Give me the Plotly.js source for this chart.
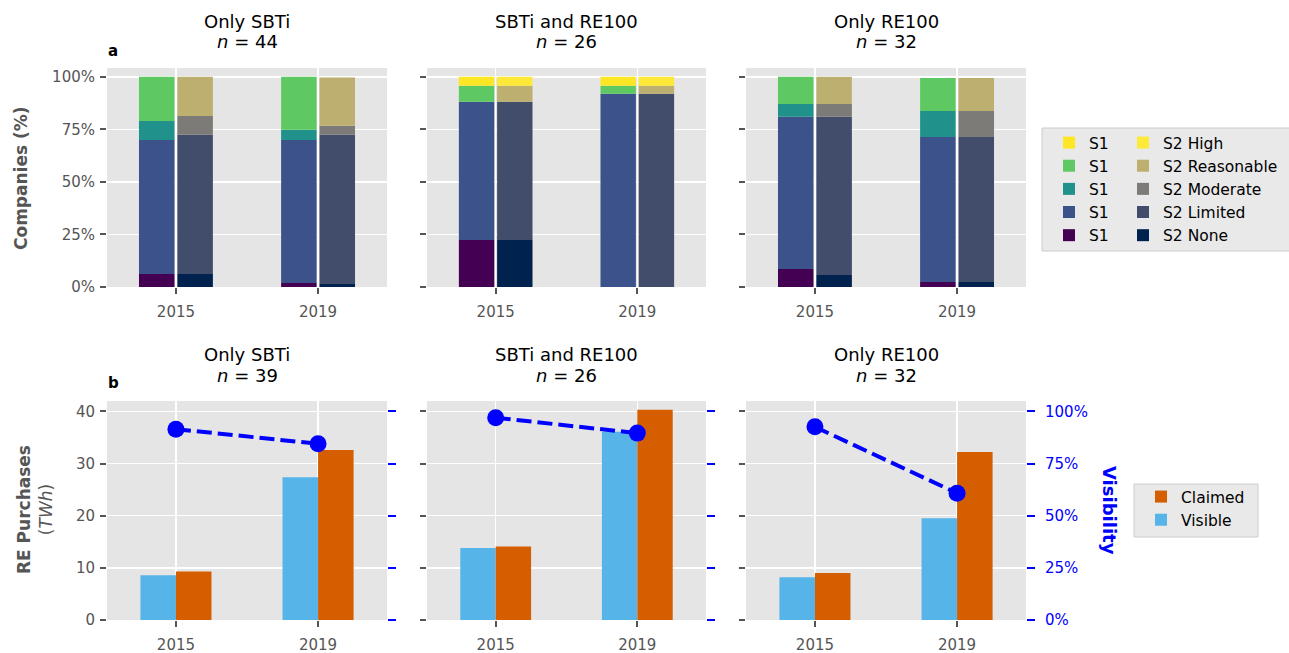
<!DOCTYPE html>
<html>
<head>
<meta charset="utf-8">
<script src="https://cdn.plot.ly/plotly-3.0.1.min.js"></script>
<style>html,body{margin:0;padding:0;background:#fff;}#chart{width:1289px;height:653px;}</style>
</head>
<body>
<div id="chart"></div>
<script>
// ---------- DATA ----------
const years = ['2015', '2019'];
const levels = ['None', 'Limited', 'Moderate', 'Reasonable', 'High'];
const panelTitles = ['Only SBTi', 'SBTi and RE100', 'Only RE100'];
const nTop = [44, 26, 32];
const nBottom = [39, 26, 32];
const pctTicks = ['0%', '25%', '50%', '75%', '100%'];

// Share of companies (%) by assurance level, order: None, Limited, Moderate, Reasonable, High
const onlySBTi_S1_2015 = [6.2, 63.8, 9.0, 21.0, 0];
const onlySBTi_S1_2019 = [1.9, 68.1, 4.8, 25.2, 0];
const onlySBTi_S2_2015 = [6.2, 66.2, 9.0, 18.6, 0];
const onlySBTi_S2_2019 = [1.4, 71.0, 4.3, 23.0, 0];

const both_S1_2015 = [22.4, 65.7, 0, 7.6, 4.3];
const both_S1_2019 = [0, 91.9, 0, 3.8, 4.3];
const both_S2_2015 = [22.4, 65.7, 0, 7.6, 4.3];
const both_S2_2019 = [0, 91.9, 0, 3.8, 4.3];

const onlyRE100_S1_2015 = [8.6, 72.4, 6.1, 12.9, 0];
const onlyRE100_S1_2019 = [2.4, 69.0, 12.4, 15.7, 0];
const onlyRE100_S2_2015 = [5.7, 75.3, 6.1, 12.9, 0];
const onlyRE100_S2_2019 = [2.4, 69.0, 12.4, 15.7, 0];

// RE purchases (TWh) and visibility share
const onlySBTi_visible = [8.6, 27.4];
const onlySBTi_claimed = [9.3, 32.6];
const onlySBTi_visibility = [0.915, 0.845];
const both_visible = [13.8, 36.1];
const both_claimed = [14.1, 40.3];
const both_visibility = [0.97, 0.896];
const onlyRE100_visible = [8.2, 19.5];
const onlyRE100_claimed = [9.0, 32.2];
const onlyRE100_visibility = [0.926, 0.608];

// ---------- STYLE ----------
const S1_COLORS = ['#440154', '#3b528b', '#21918c', '#5ec962', '#fde725'];
const S2_COLORS = ['#00224e', '#414d6b', '#7c7b78', '#bcaf6f', '#fee838'];
const VISIBLE_COLOR = '#56B4E9';
const CLAIMED_COLOR = '#D55E00';
const FONT = 'DejaVu Sans';
const GRAY = '#555555';
const W = 1289, H = 653;
const px = v => v / W;
const py = v => 1 - v / H;

const cols = [[107, 387], [427, 706], [746, 1026]];
const topRow = [68, 287];
const botRow = [401, 620];

const topData = [
  {S1: [onlySBTi_S1_2015, onlySBTi_S1_2019], S2: [onlySBTi_S2_2015, onlySBTi_S2_2019]},
  {S1: [both_S1_2015, both_S1_2019], S2: [both_S2_2015, both_S2_2019]},
  {S1: [onlyRE100_S1_2015, onlyRE100_S1_2019], S2: [onlyRE100_S2_2015, onlyRE100_S2_2019]}
];
const botData = [
  [onlySBTi_visible, onlySBTi_claimed, onlySBTi_visibility],
  [both_visible, both_claimed, both_visibility],
  [onlyRE100_visible, onlyRE100_claimed, onlyRE100_visibility]
];

const traces = [];
const layout = {
  width: W, height: H,
  margin: {l: 0, r: 0, t: 0, b: 0},
  paper_bgcolor: '#ffffff',
  plot_bgcolor: '#e5e5e5',
  barmode: 'overlay',
  font: {family: FONT, size: 15, color: GRAY},
  annotations: [],
  shapes: [],
  showlegend: true
};

function xAxis(col, anchor) {
  return {
    domain: [px(cols[col][0]), px(cols[col][1])],
    anchor: anchor,
    range: [-0.485, 1.485],
    tickmode: 'array', tickvals: [0, 1], ticktext: years,
    ticks: 'outside', ticklen: 6, tickwidth: 2, tickcolor: GRAY,
    ticklabelstandoff: 5,
    showgrid: true, gridcolor: '#ffffff', gridwidth: 1.5,
    zeroline: false, showline: false,
    tickfont: {family: FONT, size: 15, color: GRAY},
    fixedrange: true
  };
}

for (let p = 0; p < 3; p++) {
  // ---- top row ----
  const xi = p + 1, yi = p + 1;
  const xName = 'x' + (xi === 1 ? '' : xi), yName = 'y' + (yi === 1 ? '' : yi);
  layout['xaxis' + (xi === 1 ? '' : xi)] = xAxis(p, yName);
  layout['yaxis' + (yi === 1 ? '' : yi)] = {
    domain: [py(topRow[1]), py(topRow[0])],
    anchor: xName,
    range: [0, 104.2],
    tickmode: 'array', tickvals: [0, 25, 50, 75, 100], ticktext: pctTicks,
    showticklabels: p === 0,
    ticks: 'outside', ticklen: 6, tickwidth: 2, tickcolor: GRAY,
    ticklabelstandoff: 2,
    showgrid: true, gridcolor: '#ffffff', gridwidth: 1.5,
    zeroline: false, showline: false,
    tickfont: {family: FONT, size: 15, color: GRAY},
    fixedrange: true
  };
  ['S1', 'S2'].forEach((scope, si) => {
    const vals = topData[p][scope];
    const cum = [0, 0];
    levels.forEach((lvl, li) => {
      const y = [vals[0][li], vals[1][li]];
      traces.push({
        type: 'bar', x: [0, 1], y: y, base: [cum[0], cum[1]],
        width: 0.25, offset: si === 0 ? -0.26 : 0.01,
        marker: {color: si === 0 ? S1_COLORS[li] : S2_COLORS[li], line: {width: 0}},
        name: si === 0 ? 'S1' : 'S2 ' + lvl,
        legend: si === 0 ? 'legend' : 'legend2',
        legendgroup: scope + lvl,
        showlegend: p === 0,
        xaxis: xName, yaxis: yName,
        hoverinfo: 'skip'
      });
      cum[0] += y[0]; cum[1] += y[1];
    });
  });

  // ---- bottom row ----
  const bx = p + 4, by = p + 4, ry = p + 7;
  const bxName = 'x' + bx, byName = 'y' + by, ryName = 'y' + ry;
  layout['xaxis' + bx] = xAxis(p, byName);
  layout['yaxis' + by] = {
    domain: [py(botRow[1]), py(botRow[0])],
    anchor: bxName,
    range: [0, 42],
    tickmode: 'array', tickvals: [0, 10, 20, 30, 40],
    showticklabels: p === 0,
    ticks: 'outside', ticklen: 6, tickwidth: 2, tickcolor: GRAY,
    ticklabelstandoff: 2,
    showgrid: true, gridcolor: '#ffffff', gridwidth: 1.5,
    zeroline: false, showline: false,
    tickfont: {family: FONT, size: 15, color: GRAY},
    fixedrange: true
  };
  layout['yaxis' + ry] = {
    overlaying: byName, anchor: bxName, side: 'right',
    range: [0, 1.05],
    tickmode: 'array', tickvals: [0, 0.25, 0.5, 0.75, 1], tickformat: '.0%',
    showticklabels: p === 2,
    ticks: 'outside', ticklen: 8, tickwidth: 2, tickcolor: '#0000ff',
    ticklabelstandoff: 7,
    showgrid: false, zeroline: false, showline: false,
    tickfont: {family: FONT, size: 15, color: '#0000ff'},
    fixedrange: true
  };
  const [vis, cla, share] = botData[p];
  traces.push({
    type: 'bar', x: [0, 1], y: vis, width: 0.25, offset: -0.25,
    marker: {color: VISIBLE_COLOR, line: {width: 0}},
    name: 'Visible', legend: 'legend3', showlegend: p === 0,
    xaxis: bxName, yaxis: byName, hoverinfo: 'skip'
  });
  traces.push({
    type: 'bar', x: [0, 1], y: cla, width: 0.25, offset: 0,
    marker: {color: CLAIMED_COLOR, line: {width: 0}},
    name: 'Claimed', legend: 'legend3', showlegend: p === 0,
    xaxis: bxName, yaxis: byName, hoverinfo: 'skip'
  });
  traces.push({
    type: 'scatter', mode: 'lines+markers', x: [0, 1], y: share,
    line: {color: '#0000ff', width: 4, dash: '15px,6px'},
    marker: {color: '#0000ff', size: 17},
    showlegend: false, cliponaxis: false,
    xaxis: bxName, yaxis: ryName, hoverinfo: 'skip'
  });

  // titles
  const cx = px((cols[p][0] + cols[p][1]) / 2);
  layout.annotations.push(
    {text: panelTitles[p], x: cx, y: py(21), xref: 'paper', yref: 'paper', showarrow: false,
     xanchor: 'center', yanchor: 'middle', font: {family: FONT, size: 18, color: '#000'}},
    {text: '<i>n</i> = ' + nTop[p], x: cx, y: py(42), xref: 'paper', yref: 'paper', showarrow: false,
     xanchor: 'center', yanchor: 'middle', font: {family: FONT, size: 18, color: '#000'}},
    {text: panelTitles[p], x: cx, y: py(354), xref: 'paper', yref: 'paper', showarrow: false,
     xanchor: 'center', yanchor: 'middle', font: {family: FONT, size: 18, color: '#000'}},
    {text: '<i>n</i> = ' + nBottom[p], x: cx, y: py(375), xref: 'paper', yref: 'paper', showarrow: false,
     xanchor: 'center', yanchor: 'middle', font: {family: FONT, size: 18, color: '#000'}}
  );
}

layout.annotations.push(
  {text: '<b>a</b>', x: px(106), y: py(51), xref: 'paper', yref: 'paper', showarrow: false,
   xanchor: 'left', yanchor: 'middle', font: {family: FONT, size: 15, color: '#000'}},
  {text: '<b>b</b>', x: px(106), y: py(383), xref: 'paper', yref: 'paper', showarrow: false,
   xanchor: 'left', yanchor: 'middle', font: {family: FONT, size: 15, color: '#000'}},
  {text: '<b>Companies (%)</b>', x: px(21), y: py(178), xref: 'paper', yref: 'paper', showarrow: false,
   textangle: -90, xanchor: 'center', yanchor: 'middle', font: {family: FONT, size: 17, color: GRAY}},
  {text: '<b>RE Purchases</b><br>(<i>TWh</i>)', x: px(35), y: py(510), xref: 'paper', yref: 'paper', showarrow: false,
   textangle: -90, xanchor: 'center', yanchor: 'middle', font: {family: FONT, size: 17, color: GRAY}},
  {text: '<b>Visibility</b>', x: px(1110), y: py(510), xref: 'paper', yref: 'paper', showarrow: false,
   textangle: 90, xanchor: 'center', yanchor: 'middle', font: {family: FONT, size: 18, color: '#0000ff'}}
);

// legend backgrounds
layout.shapes.push(
  {type: 'rect', xref: 'paper', yref: 'paper', x0: px(1042), x1: px(1300), y0: py(251), y1: py(128),
   fillcolor: '#e9e9e9', line: {color: '#cccccc', width: 1}, layer: 'below'},
  {type: 'rect', xref: 'paper', yref: 'paper', x0: px(1134), x1: px(1258), y0: py(537), y1: py(484),
   fillcolor: '#e9e9e9', line: {color: '#cccccc', width: 1}, layer: 'below'}
);

const legendBase = {
  xref: 'paper', yref: 'paper', xanchor: 'left', yanchor: 'top',
  bgcolor: 'rgba(0,0,0,0)', borderwidth: 0,
  font: {family: FONT, size: 15.5, color: '#000'},
  traceorder: 'reversed', tracegroupgap: 4, itemclick: false, itemdoubleclick: false
};
layout.legend = Object.assign({}, legendBase, {x: px(1049), y: py(126)});
layout.legend2 = Object.assign({}, legendBase, {x: px(1123), y: py(126)});
layout.legend3 = Object.assign({}, legendBase, {x: px(1141), y: py(480)});

Plotly.newPlot('chart', traces, layout, {staticPlot: true, displayModeBar: false});
</script>
</body>
</html>
